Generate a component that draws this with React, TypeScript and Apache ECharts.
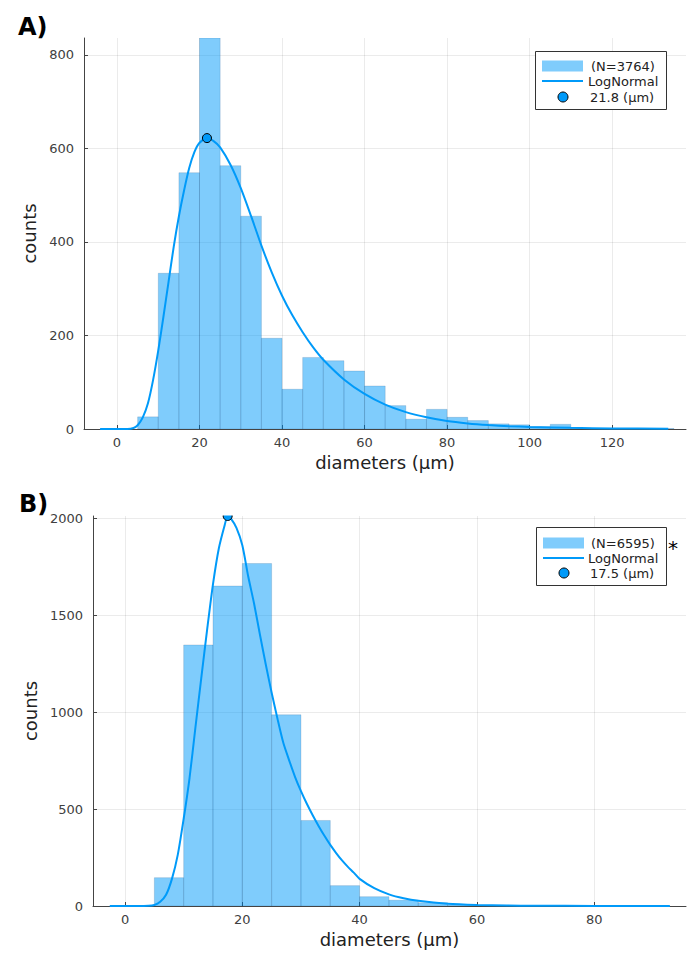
import React, { useEffect, useRef } from "react";
import * as echarts from "echarts";

// ---------- Panel A data ----------
const nA = 3764;
const modeA = 21.8;
const peakA = 622;
const binWidth = 5;
const binLeftA = [5, 10, 15, 20, 25, 30, 35, 40, 45, 50, 55, 60, 65, 70, 75, 80, 85, 90, 95, 100, 105, 110, 115, 120, 125, 130];
const countsA = [26, 333, 548, 836, 563, 455, 194, 85, 153, 146, 124, 92, 50, 21, 42, 25, 18, 11, 9, 5, 10, 2, 1, 1, 1, 1];
const curveXA = [-4.1, 0, 2.5, 4, 5, 6.25, 7.5, 8.75, 10, 11.25, 12.5, 13.75, 15, 16.25, 17.5, 18.75, 20, 21.8, 23.5, 25, 27.5, 30, 32.5, 35, 37.5, 40, 42.5, 45, 47.5, 50, 55, 60, 65, 70, 75, 80, 85, 90, 95, 100, 110, 120, 133.6];
const curveYA = [0, 0, 0, 2, 8, 25, 55, 105, 168, 240, 315, 390, 455, 510, 558, 592, 612, 622, 615, 602, 565, 515, 455, 392, 335, 285, 243, 207, 175, 148, 106, 75, 52, 36, 25, 17, 12, 8.5, 6, 4.5, 2.5, 1.3, 0.5];

// ---------- Panel B data ----------
const nB = 6595;
const modeB = 17.5;
const peakB = 2011;
const binLeftB = [5, 10, 15, 20, 25, 30, 35, 40, 45, 50, 55, 60, 65, 70];
const countsB = [146, 1346, 1650, 1766, 986, 441, 105, 48, 30, 17, 6, 3, 1, 1];
const curveXB = [-2.6, 2, 4, 5, 6, 7, 8, 9, 10, 11, 12, 13, 14, 15, 16, 17, 17.5, 18, 19, 20, 21, 22, 23, 24, 25, 26, 27, 28, 29, 30, 31, 32, 33, 34, 35, 36, 37, 38, 39, 40, 42.5, 45, 47.5, 50, 55, 60, 65, 70, 80, 92.9];
const curveYB = [0, 0, 1, 5, 22, 58, 140, 265, 450, 660, 920, 1175, 1425, 1660, 1845, 1965, 2011, 2000, 1950, 1860, 1700, 1560, 1400, 1245, 1100, 965, 840, 750, 665, 592, 527, 468, 413, 362, 315, 273, 235, 202, 172, 140, 92, 60, 40, 27, 12, 5.5, 2.5, 1.2, 0.3, 0];

const xTickStep = 20;
const yTickStepA = 200;
const yTickStepB = 500;

const FONT = "DejaVu Sans";
const BLUE = "#009af9";
const BAR_FILL = "rgba(0,154,249,0.5)";
const AXIS = "#444444";
const LABEL = "#404040";

function histData(lefts: number[], counts: number[]) {
  return lefts.map((l, i) => [l, l + binWidth, counts[i]]);
}

function curveData(xs: number[], ys: number[]) {
  return xs.map((x, i) => [x, ys[i]]);
}

function stepFormatter(step: number) {
  return (v: number) => (Math.abs(v / step - Math.round(v / step)) < 1e-6 ? String(Math.round(v)) : "");
}

function makeXAxis(gridIndex: number, min: number, max: number, splitNumber: number) {
  return {
    type: "value",
    gridIndex,
    min,
    max,
    splitNumber,
    name: "diameters (µm)",
    nameLocation: "middle",
    nameGap: 24,
    nameTextStyle: { fontFamily: FONT, fontSize: 18, color: "#222" },
    axisLine: { show: true, onZero: false, lineStyle: { color: AXIS, width: 1 } },
    axisTick: { show: true, inside: true, length: 4, lineStyle: { color: AXIS } },
    axisLabel: {
      color: LABEL,
      fontFamily: FONT,
      fontSize: 13,
      margin: 7,
      showMinLabel: false,
      showMaxLabel: false,
      formatter: stepFormatter(xTickStep),
    },
    splitLine: { show: true, showMinLine: false, showMaxLine: false, lineStyle: { color: "rgba(0,0,0,0.08)", width: 1 } },
  };
}

function makeYAxis(gridIndex: number, max: number, step: number, nameGap: number) {
  return {
    type: "value",
    gridIndex,
    min: 0,
    max,
    splitNumber: 4,
    name: "counts",
    nameLocation: "middle",
    nameGap,
    nameTextStyle: { fontFamily: FONT, fontSize: 18, color: "#222" },
    axisLine: { show: true, onZero: false, lineStyle: { color: AXIS, width: 1 } },
    axisTick: { show: true, inside: true, length: 4, lineStyle: { color: AXIS } },
    axisLabel: {
      color: LABEL,
      fontFamily: FONT,
      fontSize: 13,
      margin: 10,
      showMaxLabel: false,
      formatter: stepFormatter(step),
    },
    splitLine: { show: true, showMinLine: false, showMaxLine: false, lineStyle: { color: "rgba(0,0,0,0.08)", width: 1 } },
  };
}

function renderBar(params: any, api: any) {
  const x0 = api.value(0);
  const x1 = api.value(1);
  const h = api.value(2);
  const p0 = api.coord([x0, h]);
  const p1 = api.coord([x1, 0]);
  return {
    type: "rect",
    shape: { x: p0[0], y: p0[1], width: p1[0] - p0[0], height: p1[1] - p0[1] },
    style: { fill: BAR_FILL, stroke: "rgba(0,60,110,0.22)", lineWidth: 0.7 },
  };
}

function legend(x: number, y: number, w: number, h: number, rows: number[], texts: string[], textX: number[]) {
  const els: any[] = [
    { type: "rect", shape: { x: x + 0.5, y: y + 0.5, width: w, height: h }, style: { fill: "#fff", stroke: "#333", lineWidth: 1 }, z: 50 },
    { type: "rect", shape: { x: x + 7, y: rows[0] - 5.5, width: 41, height: 11 }, style: { fill: BAR_FILL }, z: 51 },
    { type: "line", shape: { x1: x + 7, y1: rows[1], x2: x + 48, y2: rows[1] }, style: { stroke: BLUE, lineWidth: 2 }, z: 51 },
    { type: "circle", shape: { cx: x + 28, cy: rows[2], r: 5 }, style: { fill: BLUE, stroke: "#000", lineWidth: 1 }, z: 51 },
  ];
  texts.forEach((t, i) => {
    els.push({
      type: "text",
      x: textX[i],
      y: rows[i],
      style: { text: t, fontFamily: FONT, fontSize: 13, fill: "#222", verticalAlign: "middle", align: "left" },
      z: 52,
    });
  });
  return els;
}

function lineSeries(xi: number, xs: number[], ys: number[]) {
  return {
    type: "line",
    xAxisIndex: xi,
    yAxisIndex: xi,
    data: curveData(xs, ys),
    smooth: 0.25,
    showSymbol: false,
    lineStyle: { color: BLUE, width: 2 },
    z: 3,
  };
}

export default function App() {
  const ref = useRef<HTMLDivElement>(null);
  useEffect(() => {
    if (!ref.current) return;
    const chart = echarts.init(ref.current, undefined, { renderer: "svg" });
    const yMaxA = Math.max(...countsA);
    const yMaxB = Math.max(...curveYB);
    const option: any = {
      animation: false,
      backgroundColor: "#fff",
      grid: [
        { left: 84, top: 38, width: 602, height: 391 },
        { left: 93, top: 516, width: 593, height: 390 },
      ],
      xAxis: [makeXAxis(0, -8.0, 137.9, 7), makeXAxis(1, -5.46, 95.65, 5)],
      yAxis: [makeYAxis(0, yMaxA, yTickStepA, 44), makeYAxis(1, yMaxB, yTickStepB, 53)],
      series: [
        {
          type: "custom",
          xAxisIndex: 0,
          yAxisIndex: 0,
          renderItem: renderBar,
          data: histData(binLeftA, countsA),
          encode: { x: [0, 1], y: 2 },
          clip: true,
          z: 2,
        },
        lineSeries(0, curveXA, curveYA),
        {
          type: "scatter",
          xAxisIndex: 0,
          yAxisIndex: 0,
          data: [[modeA, peakA]],
          symbolSize: 9,
          itemStyle: { color: BLUE, borderColor: "#000", borderWidth: 1, opacity: 1 },
          z: 4,
        },
        {
          type: "custom",
          xAxisIndex: 1,
          yAxisIndex: 1,
          renderItem: renderBar,
          data: histData(binLeftB, countsB),
          encode: { x: [0, 1], y: 2 },
          clip: true,
          z: 2,
        },
        lineSeries(1, curveXB, curveYB),
        {
          type: "scatter",
          xAxisIndex: 1,
          yAxisIndex: 1,
          data: [[modeB, peakB]],
          symbolSize: 9,
          itemStyle: { color: BLUE, borderColor: "#000", borderWidth: 1, opacity: 1 },
          z: 4,
        },
      ],
      graphic: [
        { type: "rect", shape: { x: 205, y: 500, width: 46, height: 15.5 }, style: { fill: "#fff" }, z: 40 },
        { type: "text", x: 18, y: 27, style: { text: "A)", fontFamily: FONT, fontSize: 24, fontWeight: "bold", fill: "#000", verticalAlign: "middle" }, z: 60 },
        { type: "text", x: 19, y: 504, style: { text: "B)", fontFamily: FONT, fontSize: 24, fontWeight: "bold", fill: "#000", verticalAlign: "middle" }, z: 60 },
        ...legend(535, 51, 131, 58, [66, 81, 97], [`(N=${nA})`, "LogNormal", `${modeA} (µm)`], [591, 588, 590]),
        ...legend(536, 527, 130, 58, [543, 558, 573], [`(N=${nB})`, "LogNormal", `${modeB} (µm)`], [591, 588, 590]),
        { type: "text", x: 668, y: 548, style: { text: "*", fontFamily: FONT, fontSize: 20, fill: "#000", verticalAlign: "middle" }, z: 60 },
      ],
    };
    chart.setOption(option);
    return () => chart.dispose();
  }, []);
  return <div ref={ref} style={{ position: "fixed", left: 0, top: 0, width: 700, height: 957 }} />;
}
